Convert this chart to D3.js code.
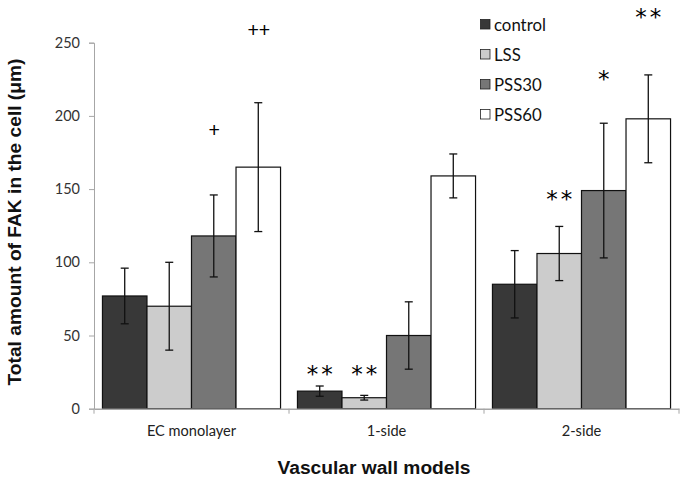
<!DOCTYPE html>
<html><head><meta charset="utf-8">
<script src="https://cdn.jsdelivr.net/npm/d3@7"></script>
<style>body{margin:0;background:#fff}</style>
</head><body>
<svg id="c" width="685" height="479"></svg>
<script>
const categories = ["EC monolayer", "1-side", "2-side"];
const seriesNames = ["control", "LSS", "PSS30", "PSS60"];
const seriesColors = ["#383838", "#cccccc", "#767676", "#ffffff"];
const means = [
  [77, 70, 118, 165],
  [12, 7.5, 50, 159],
  [85, 106, 149, 198]
];
const errors = [
  [19, 30, 28, 44],
  [3.5, 1.6, 23, 15],
  [23, 18.5, 46, 30]
];
const marks = [
  ["", "", "+", "++"],
  ["**", "**", "", ""],
  ["", "**", "*", "**"]
];
// vertical level (in axis units) of each significance mark's centre
const markLevels = [
  [0, 0, 190, 258],
  [27.5, 27.5, 0, 0],
  [0, 146.7, 229, 271.6]
];
const yTicks = [0, 50, 100, 150, 200, 250];

(function () {
const svg = d3.select("#c");
const pL = 94, pR = 679, pT = 42.7, pB = 408.7;
const x = d3.scaleBand().domain(categories).range([pL, pR]).paddingInner(0).paddingOuter(0);
const xs = d3.scaleBand().domain(seriesNames).range([0, x.bandwidth()]).paddingOuter(0.19).paddingInner(0);
const y = d3.scaleLinear().domain([0, 250]).range([pB, pT]);

// y axis
const ya = svg.append("g").attr("transform", `translate(${pL},0)`)
  .call(d3.axisLeft(y).tickValues(yTicks).tickSize(5).tickPadding(9));
ya.select(".domain").attr("stroke", "#a6a6a6");
ya.selectAll(".tick line").attr("stroke", "#a6a6a6");
ya.selectAll("text").attr("font-family", "Lato, 'Open Sans', sans-serif").attr("font-size", 14.5).attr("fill", "#333");

// bars
const data = [];
categories.forEach((c, i) => seriesNames.forEach((s, j) => data.push({c, s, j, v: means[i][j], e: errors[i][j], m: marks[i][j], lv: markLevels[i][j]})));
svg.append("g").selectAll("rect").data(data).join("rect")
  .attr("x", d => x(d.c) + xs(d.s))
  .attr("y", d => y(d.v))
  .attr("width", xs.bandwidth())
  .attr("height", d => y(0) - y(d.v))
  .attr("fill", d => seriesColors[d.j])
  .attr("stroke", "#111").attr("stroke-width", 1.2);

// error bars
const eg = svg.append("g").attr("stroke", "#111").attr("stroke-width", 1.3);
data.forEach(d => {
  const cx = x(d.c) + xs(d.s) + xs.bandwidth() / 2;
  eg.append("line").attr("x1", cx).attr("x2", cx).attr("y1", y(d.v + d.e)).attr("y2", y(d.v - d.e));
  eg.append("line").attr("x1", cx - 4).attr("x2", cx + 4).attr("y1", y(d.v + d.e)).attr("y2", y(d.v + d.e));
  eg.append("line").attr("x1", cx - 4).attr("x2", cx + 4).attr("y1", y(d.v - d.e)).attr("y2", y(d.v - d.e));
});

// x axis
const xa = svg.append("g").attr("transform", `translate(0,${pB})`)
  .call(d3.axisBottom(x).tickSize(0).tickPadding(16.5));
xa.select(".domain").attr("stroke", "#a6a6a6").attr("stroke-width", 1.5);
xa.selectAll("text").attr("font-family", "Lato, 'Open Sans', sans-serif").attr("font-size", 14.6).attr("fill", "#222");
const bounds = [0, 1, 2, 3].map(i => pL + i * x.step());
svg.append("g").selectAll("line").data(bounds).join("line")
  .attr("x1", d => d).attr("x2", d => d).attr("y1", pB).attr("y2", pB + 5)
  .attr("stroke", "#a6a6a6");

// significance marks
svg.append("g").selectAll("text").data(data.filter(d => d.m)).join("text")
  .attr("x", d => x(d.c) + xs(d.s) + xs.bandwidth() / 2 + (d.m[0] === "*" ? 1.5 : 0.5))
  .attr("y", d => y(d.lv) + (d.m[0] === "*" ? 13.5 : 6.5))
  .attr("text-anchor", "middle")
  .attr("font-family", d => d.m[0] === "*" ? "'DejaVu Sans', sans-serif" : "'Liberation Sans', Arial, sans-serif")
  .attr("font-size", d => d.m[0] === "*" ? 23 : 19.5)
  .attr("letter-spacing", d => d.m[0] === "*" ? 3 : 0)
  .attr("fill", "#000")
  .text(d => d.m);

// legend
const lg = svg.append("g").attr("transform", "translate(480,18)");
seriesNames.forEach((s, j) => {
  const g = lg.append("g").attr("transform", `translate(0,${j * 30})`);
  g.append("rect").attr("x", 0.5).attr("y", 1.5).attr("width", 9.5).attr("height", 9.5)
    .attr("fill", seriesColors[j]).attr("stroke", "#222").attr("stroke-width", 0.8);
  g.append("text").attr("x", 14).attr("y", 12.5).attr("font-family", "Lato, 'Open Sans', sans-serif")
    .attr("font-size", 16.8).attr("fill", "#111").text(s);
});

// axis titles
svg.append("text").attr("transform", `translate(20.5,222) rotate(-90)`)
  .attr("text-anchor", "middle").attr("font-family", "'Liberation Sans', Arial, sans-serif")
  .attr("font-weight", "bold").attr("font-size", 19.2).attr("fill", "#111")
  .text("Total amount of FAK in the cell (μm)");
svg.append("text").attr("x", 374).attr("y", 474)
  .attr("text-anchor", "middle").attr("font-family", "'Liberation Sans', Arial, sans-serif")
  .attr("font-weight", "bold").attr("font-size", 19.2).attr("fill", "#111")
  .text("Vascular wall models");
})();
</script>
</body></html>
